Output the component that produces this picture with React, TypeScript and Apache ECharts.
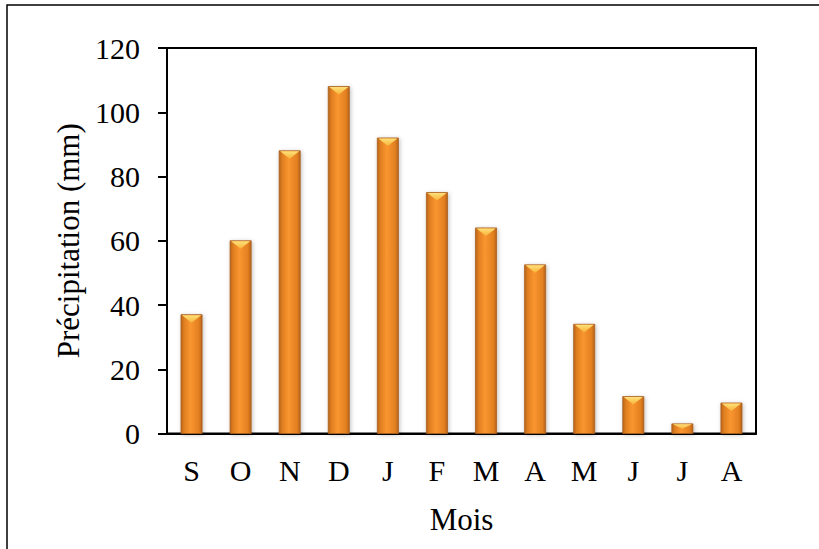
import React, { useEffect, useRef } from "react";
import * as echarts from "echarts";

const months = ["S", "O", "N", "D", "J", "F", "M", "A", "M", "J", "J", "A"];
const precipitation = [37, 60, 88, 108, 92, 75, 64, 52.5, 34, 11.5, 3, 9.5];
const yTicks = { min: 0, max: 120, interval: 20 };
const xAxisTitle = "Mois";
const yAxisTitle = "Précipitation (mm)";

const FONT = "'Liberation Serif', 'Times New Roman', serif";

export default function App() {
  const ref = useRef<HTMLDivElement>(null);
  useEffect(() => {
    if (!ref.current) return;
    const chart = echarts.init(ref.current, undefined, { renderer: "svg" });
    const bodyGrad = new echarts.graphic.LinearGradient(0, 0, 1, 0, [
      { offset: 0, color: "#b8651c" },
      { offset: 0.15, color: "#e07f20" },
      { offset: 0.45, color: "#fa9630" },
      { offset: 0.85, color: "#e27f20" },
      { offset: 1, color: "#b5621b" },
    ]);
    const capGrad = new echarts.graphic.LinearGradient(0, 0, 0, 1, [
      { offset: 0, color: "#ffe07a" },
      { offset: 1, color: "#f7b338" },
    ]);
    chart.setOption({
      animation: false,
      backgroundColor: "#ffffff",
      grid: {
        left: 167,
        top: 48,
        right: 63,
        bottom: 115.5,
        show: true,
        borderColor: "#000",
        borderWidth: 2,
        backgroundColor: "transparent",
      },
      xAxis: {
        type: "category",
        data: months,
        name: xAxisTitle,
        nameLocation: "middle",
        nameGap: 70,
        nameTextStyle: { fontFamily: FONT, fontSize: 31, color: "#000" },
        axisLine: { lineStyle: { color: "#000", width: 2 } },
        axisTick: { show: false },
        axisLabel: { fontFamily: FONT, fontSize: 30, color: "#000", margin: 22 },
      },
      yAxis: {
        type: "value",
        min: yTicks.min,
        max: yTicks.max,
        interval: yTicks.interval,
        name: yAxisTitle,
        nameLocation: "middle",
        nameGap: 82,
        nameTextStyle: { fontFamily: FONT, fontSize: 31, color: "#000" },
        axisLine: { show: true, lineStyle: { color: "#000", width: 2 } },
        axisTick: { show: true, length: 9, lineStyle: { color: "#000", width: 2 } },
        splitLine: { show: false },
        axisLabel: { fontFamily: FONT, fontSize: 30, color: "#000", margin: 27 },
      },
      graphic: [
        {
          type: "rect",
          shape: { x: 7, y: 5, width: 830, height: 560 },
          style: { fill: "none", stroke: "#000", lineWidth: 1.5 },
          silent: true,
        },
      ],
      series: [
        {
          type: "custom",
          data: precipitation.map((v, i) => [i, v]),
          renderItem: (params: any, api: any) => {
            const idx = api.value(0);
            const val = api.value(1);
            const top = api.coord([idx, val]);
            const base = api.coord([idx, 0]);
            const bw = api.size([1, 0])[0] * 0.43;
            const x0 = top[0] - bw / 2;
            const h = base[1] - top[1];
            const cap = Math.min(8, h / 2);
            return {
              type: "group",
              children: [
                {
                  type: "rect",
                  shape: { x: x0, y: top[1], width: bw, height: h },
                  style: {
                    fill: bodyGrad,
                    stroke: "#a9601f",
                    lineWidth: 0.8,
                    shadowBlur: 4,
                    shadowColor: "rgba(0,0,0,0.25)",
                    shadowOffsetX: 1,
                    shadowOffsetY: 1,
                  },
                },
                {
                  type: "polygon",
                  shape: {
                    points: [
                      [x0 + 1, top[1] + 0.5],
                      [x0 + bw - 1, top[1] + 0.5],
                      [x0 + bw / 2, top[1] + cap],
                    ],
                  },
                  style: { fill: capGrad },
                },
              ],
            };
          },
        },
      ],
    });
    return () => chart.dispose();
  }, []);
  return (
    <div
      ref={ref}
      style={{ position: "fixed", left: 0, top: 0, width: 819, height: 549 }}
    />
  );
}
